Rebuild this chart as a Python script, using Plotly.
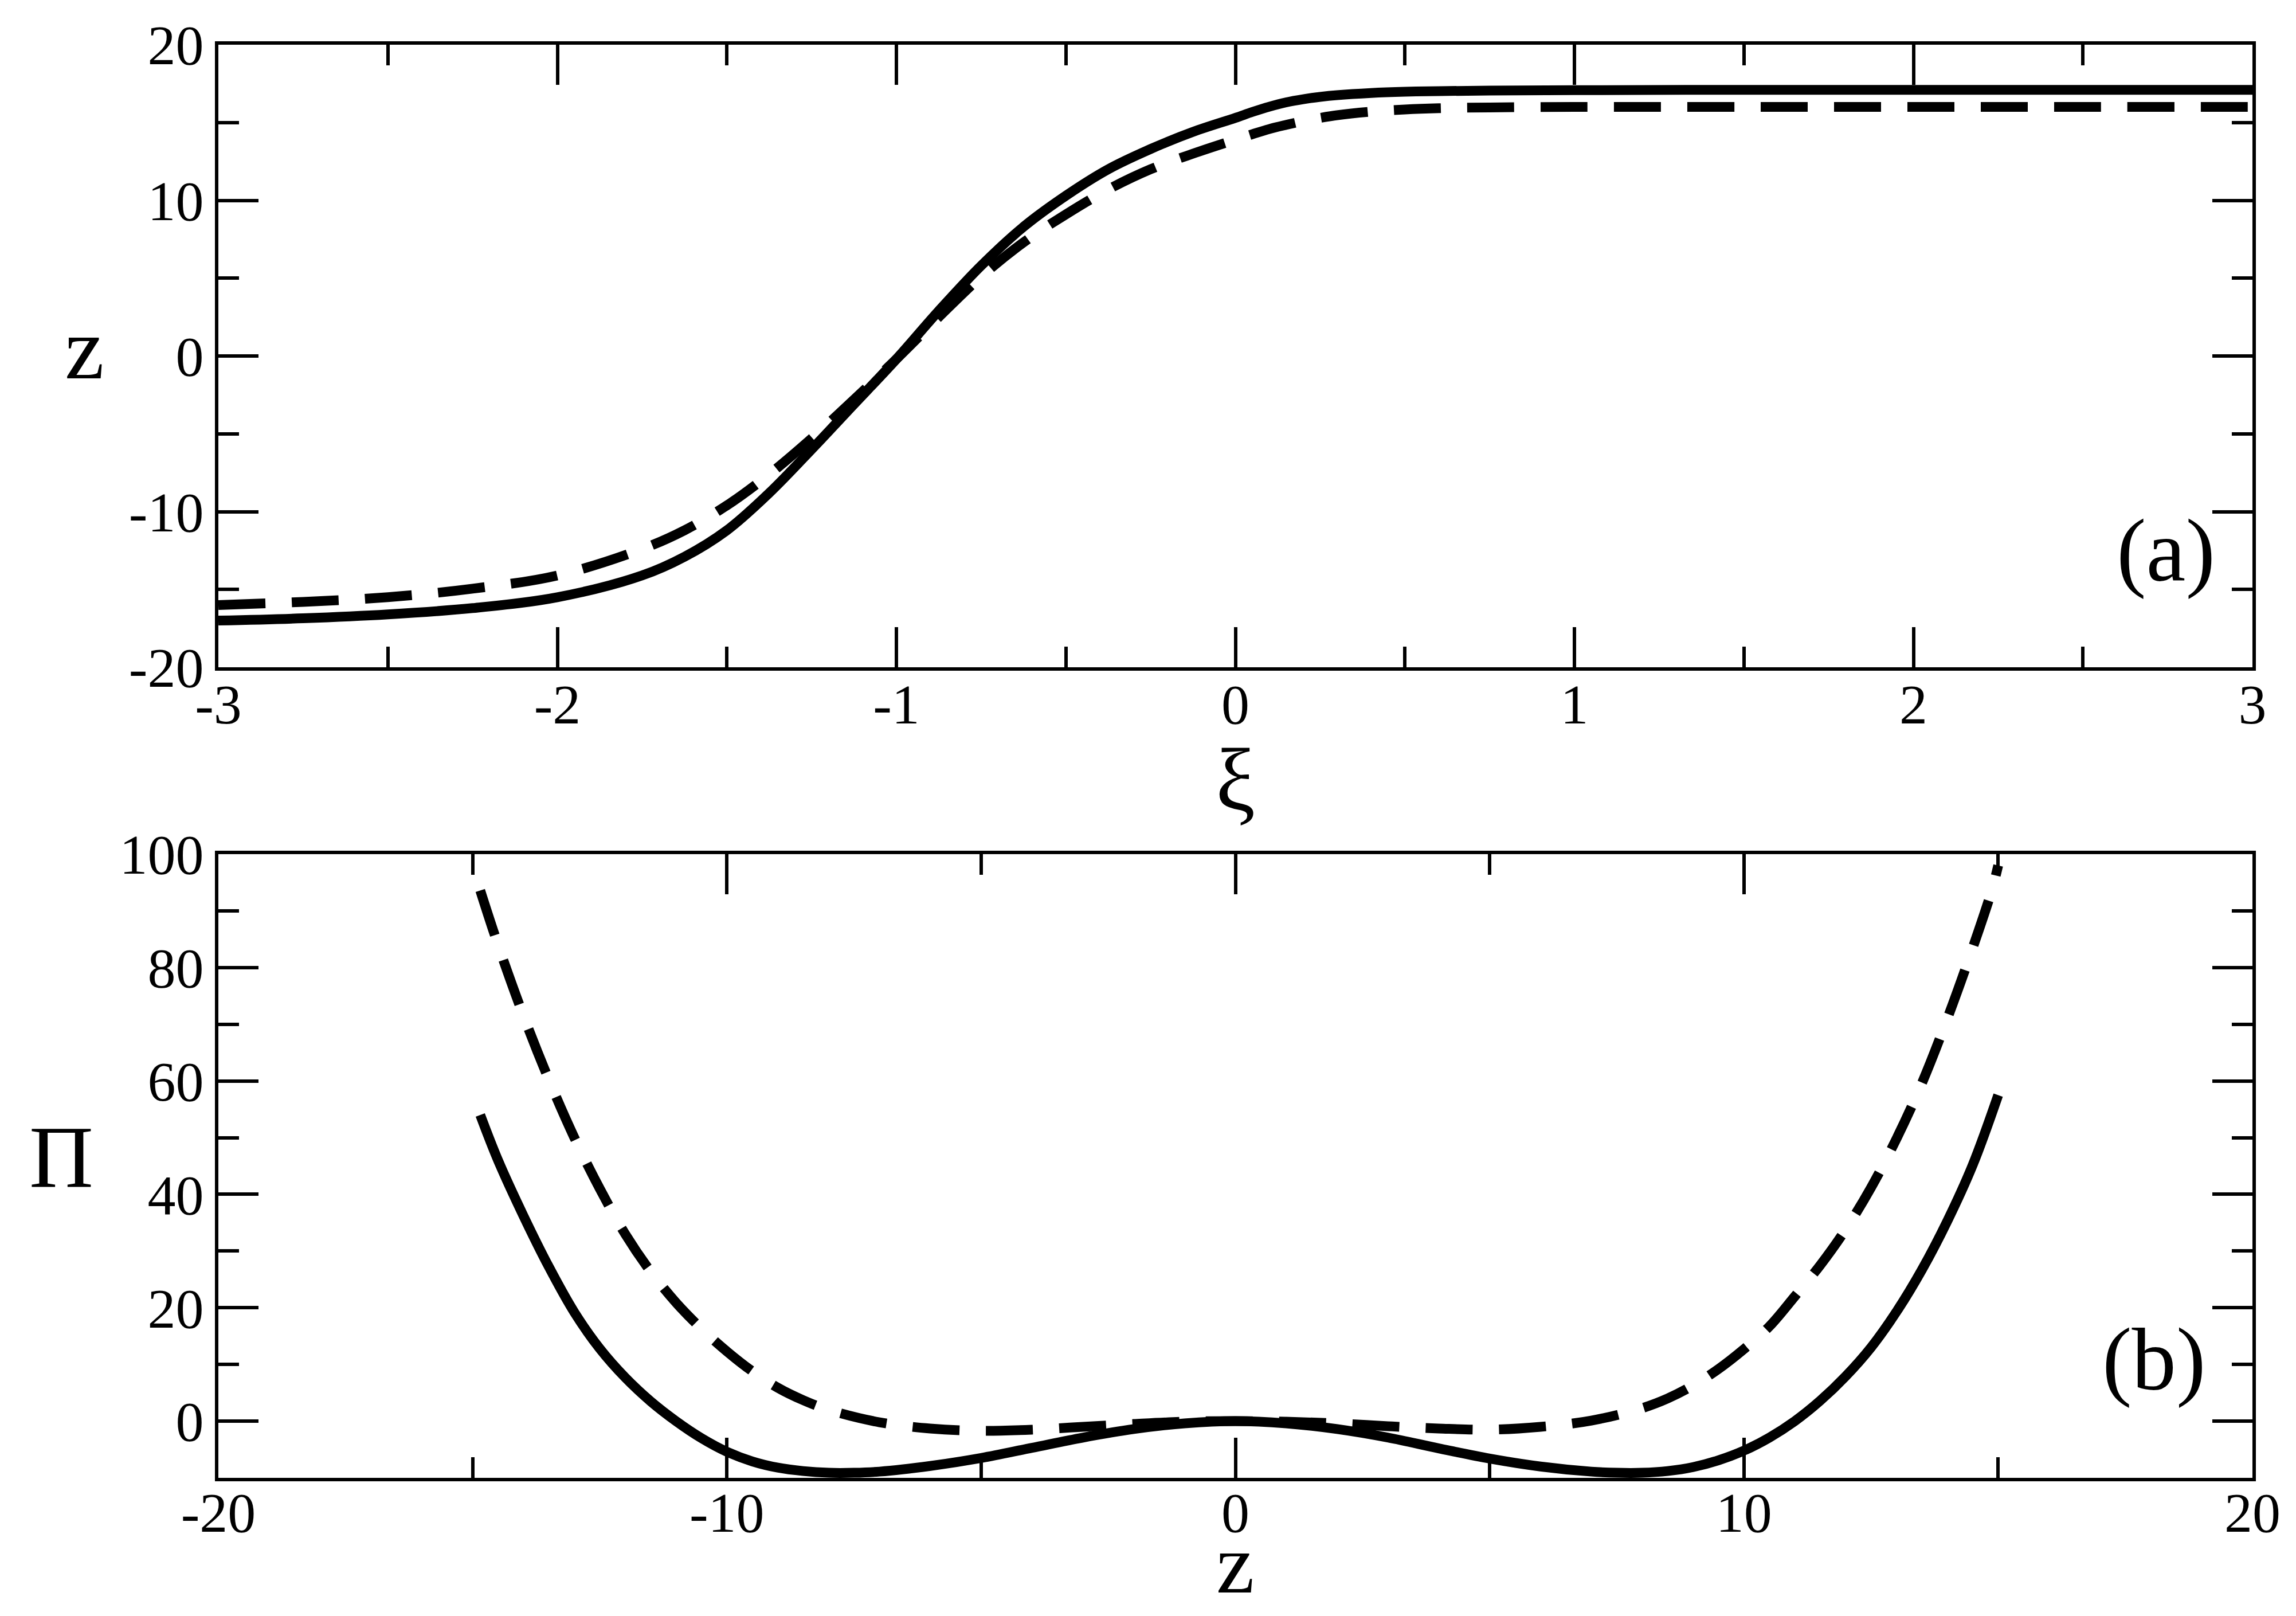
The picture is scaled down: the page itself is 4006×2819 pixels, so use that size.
import plotly.graph_objects as go
from plotly.subplots import make_subplots

# --- panel (a): z versus xi ---
xi_solid = [-3.0, -2.75, -2.5, -2.25, -2.0, -1.75, -1.625, -1.5, -1.375, -1.25, -1.125, -1.0,
            -0.875, -0.75, -0.625, -0.5, -0.375, -0.25, -0.125, 0.0, 0.05, 0.1, 0.15, 0.2,
            0.25, 0.3, 0.4, 0.5, 0.6, 0.75, 1.0, 1.5, 2.0, 2.5, 3.0]
z_solid = [-17.0, -16.85, -16.6, -16.2, -15.5, -14.1, -12.9, -11.2, -8.8, -6.0, -3.1, -0.2,
           2.9, 5.8, 8.3, 10.3, 12.0, 13.3, 14.4, 15.3, 15.68, 16.02, 16.3, 16.5,
           16.65, 16.76, 16.9, 16.98, 17.02, 17.05, 17.08, 17.1, 17.1, 17.1, 17.1]

xi_dashed = [-3.0, -2.75, -2.5, -2.25, -2.0, -1.75, -1.625, -1.5, -1.375, -1.25, -1.125, -1.0,
             -0.875, -0.75, -0.625, -0.5, -0.375, -0.25, -0.125, 0.0, 0.05, 0.1, 0.15, 0.2,
             0.25, 0.3, 0.4, 0.5, 0.6, 0.75, 1.0, 1.5, 2.0, 2.5, 3.0]
z_dashed = [-16.0, -15.8, -15.5, -14.95, -14.1, -12.4, -11.2, -9.6, -7.6, -5.3, -2.8, -0.2,
            2.5, 5.1, 7.3, 9.1, 10.7, 12.0, 13.0, 13.9, 14.25, 14.58, 14.85, 15.1,
            15.3, 15.47, 15.7, 15.84, 15.92, 15.97, 16.0, 16.0, 16.0, 16.0, 16.0]

# --- panel (b): Pi versus z ---
zb_solid = [-14.85, -14.5, -14.0, -13.5, -13.0, -12.5, -12.0, -11.5, -11.0, -10.5, -10.0,
            -9.5, -9.0, -8.5, -8.0, -7.5, -7.0, -6.0, -5.0, -4.0, -3.0, -2.0, -1.0, 0.0,
            1.0, 2.0, 3.0, 4.0, 5.0, 6.0, 7.0, 7.5, 8.0, 8.5, 9.0, 9.5, 10.0, 10.5, 11.0,
            11.5, 12.0, 12.5, 13.0, 13.5, 14.0, 14.5, 15.0]
pi_solid = [54.0, 46.0, 36.2, 27.2, 19.2, 12.8, 7.7, 3.5, 0.0, -3.0, -5.4,
            -7.1, -8.2, -8.8, -9.1, -9.1, -8.9, -7.9, -6.5, -4.7, -2.9, -1.4, -0.4, 0.0,
            -0.4, -1.4, -2.9, -4.8, -6.6, -8.0, -8.9, -9.1, -9.1, -8.8, -8.1, -6.9, -5.2, -2.9, 0.0,
            3.6, 7.9, 13.0, 19.3, 26.7, 35.3, 45.2, 57.5]

zb_dashed = [-14.85, -14.5, -14.0, -13.5, -13.0, -12.5, -12.0, -11.5, -11.0, -10.5, -10.0,
             -9.5, -9.0, -8.5, -8.0, -7.0, -6.0, -5.0, -4.0, -3.0, -2.0, -1.0, 0.0,
             1.0, 2.0, 3.0, 4.0, 5.0, 6.0, 7.0, 8.0, 8.5, 9.0, 9.5, 10.0, 10.5, 11.0,
             11.5, 12.0, 12.5, 13.0, 13.5, 14.0, 14.5, 14.88, 15.0]
pi_dashed = [93.6, 84.0, 71.5, 60.2, 50.0, 41.0, 33.0, 26.4, 20.9, 16.3, 12.3,
             8.8, 5.9, 3.7, 2.0, -0.2, -1.3, -1.7, -1.5, -1.0, -0.5, -0.1, 0.0,
             -0.1, -0.4, -0.9, -1.3, -1.5, -1.0, 0.1, 2.3, 4.0, 6.3, 9.2, 12.7, 16.7, 22.0,
             27.5, 33.8, 41.2, 49.8, 59.6, 71.0, 83.5, 93.8, 98.0]

# tick labels (plain hyphen, as in the original)
xi_ticks = [-3, -2, -1, 0, 1, 2, 3]
xi_labels = ["-3", "-2", "-1", "0", "1", "2", "3"]
za_ticks = [-20, -10, 0, 10, 20]
za_labels = ["-20", "-10", "0", "10", "20"]
zb_ticks = [-20, -10, 0, 10, 20]
zb_labels = ["-20", "-10", "0", "10", "20"]
pi_ticks = [0, 20, 40, 60, 80, 100]
pi_labels = ["0", "20", "40", "60", "80", "100"]

FONT = "Liberation Serif"
LW = 17
DASH = "82px,46px"

fig = make_subplots(rows=2, cols=1)

fig.add_trace(go.Scatter(x=xi_solid, y=z_solid, mode="lines", line_shape="spline",
                         line=dict(color="black", width=LW)), row=1, col=1)
fig.add_trace(go.Scatter(x=xi_dashed, y=z_dashed, mode="lines", line_shape="spline",
                         line=dict(color="black", width=LW, dash=DASH)), row=1, col=1)
fig.add_trace(go.Scatter(x=zb_solid, y=pi_solid, mode="lines", line_shape="spline",
                         line=dict(color="black", width=LW)), row=2, col=1)
fig.add_trace(go.Scatter(x=zb_dashed, y=pi_dashed, mode="lines", line_shape="spline",
                         line=dict(color="black", width=LW, dash=DASH)), row=2, col=1)


def axis_style(vals, text, rng, minor_dtick, domain=None, standoff=0):
    d = dict(range=rng, tickmode="array", tickvals=vals, ticktext=text,
             showline=True, linecolor="black", linewidth=6, mirror="allticks",
             ticks="inside", ticklen=70, tickwidth=6, tickcolor="black",
             showgrid=False, zeroline=False, ticklabelstandoff=standoff,
             tickfont=dict(family=FONT, size=98, color="black"),
             minor=dict(ticks="inside", ticklen=36, tickwidth=6, tickcolor="black",
                        tickmode="linear", tick0=rng[0], dtick=minor_dtick, showgrid=False))
    if domain is not None:
        d["domain"] = domain
    return d


fig.update_layout(
    width=4006, height=2819,
    margin=dict(l=373, r=84, t=70, b=249),
    paper_bgcolor="white", plot_bgcolor="white",
    showlegend=False,
    xaxis=axis_style(xi_ticks, xi_labels, [-3, 3], 0.5, standoff=-26),
    yaxis=axis_style(za_ticks, za_labels, [-20, 20], 5, domain=[0.5656, 1.0]),
    xaxis2=axis_style(zb_ticks, zb_labels, [-20, 20], 5, standoff=-30),
    yaxis2=axis_style(pi_ticks, pi_labels, [-10, 100], 10, domain=[0.0, 0.4352]),
)

# axis titles and panel labels as plain (unrotated) text
notes = [
    ("z", -0.0657, 0.788, "middle", 155),
    ("\u03be", 0.5, 0.4872, "middle", 155),
    ("\u03a0", -0.0772, 0.2236, "middle", 155),
    ("(a)", 0.9575, 0.6472, "middle", 155),
    ("(b)", 0.9518, 0.0828, "middle", 155),
]
for txt, x, y, ya, size in notes:
    fig.add_annotation(text=txt, xref="paper", yref="paper", x=x, y=y,
                       xanchor="center", yanchor=ya, showarrow=False,
                       font=dict(family=FONT, size=size, color="black"))

# bottom x title sits close under the tick labels: use a box trimmed to the glyph
fig.add_annotation(text="z", xref="paper", yref="paper", x=0.5, y=-0.0936,
                   xanchor="center", yanchor="bottom", height=100, valign="bottom",
                   showarrow=False, font=dict(family=FONT, size=150, color="black"))

fig.write_html("out.html")
